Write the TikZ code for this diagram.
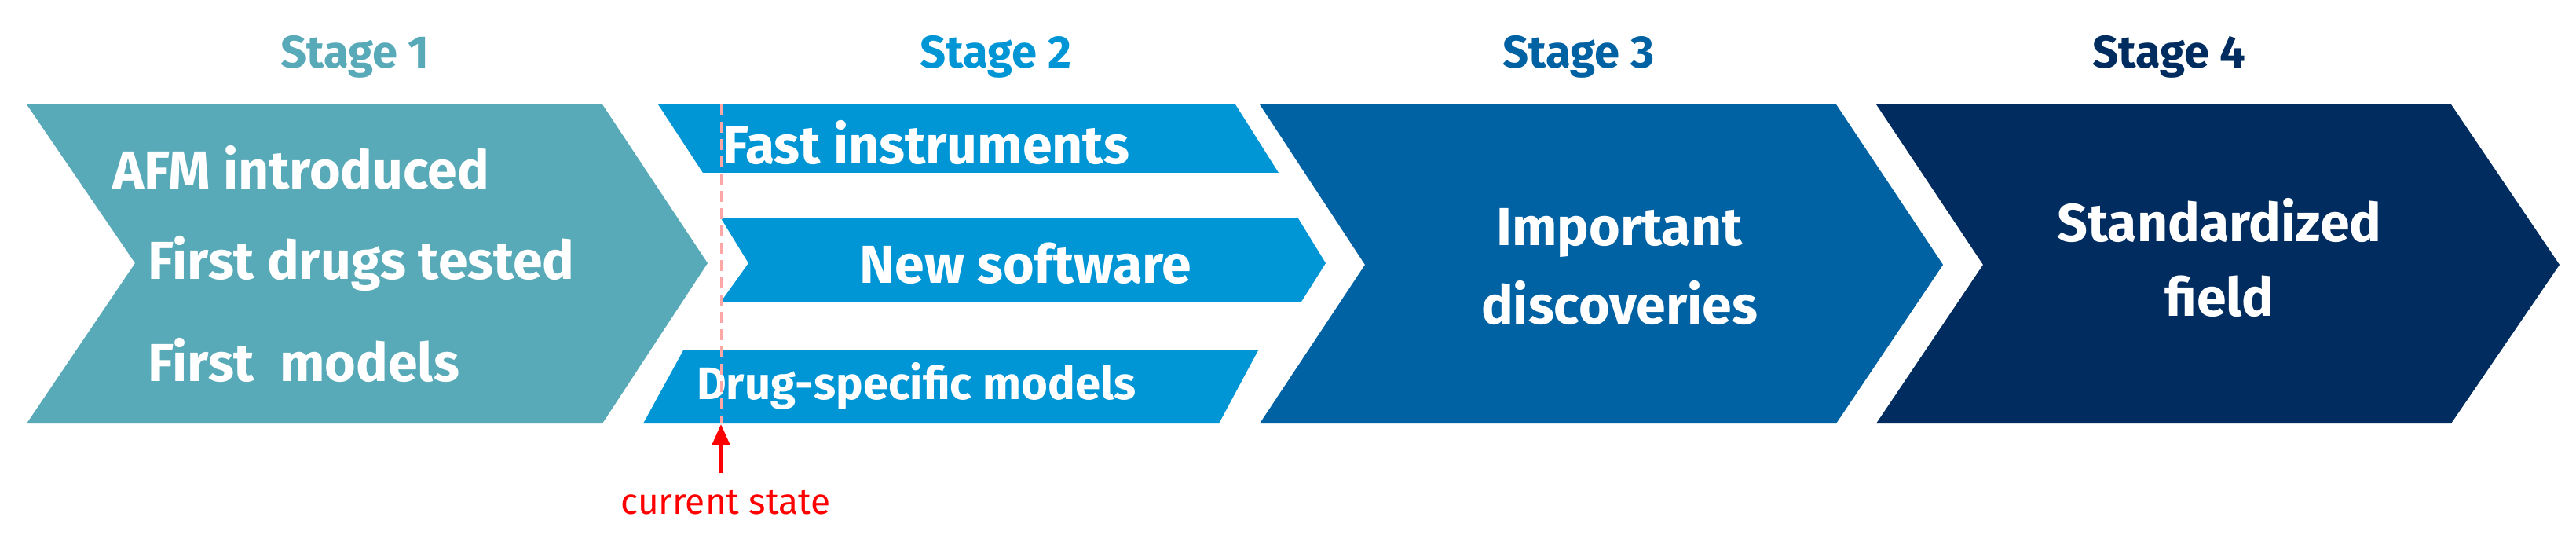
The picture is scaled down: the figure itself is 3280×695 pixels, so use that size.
\documentclass[tikz,border=0pt]{standalone}
\usepackage{fontspec}
\setmainfont{Fira Sans}
\usetikzlibrary{arrows.meta}
\definecolor{cA}{HTML}{58AAB8}
\definecolor{cB}{HTML}{0096D6}
\definecolor{cC}{HTML}{0062A3}
\definecolor{cD}{HTML}{002C5F}
\definecolor{cR}{HTML}{FF0000}
\begin{document}
\begin{tikzpicture}[x=1pt,y=-1pt,
  txt/.style={text=white,font=\fontsize{68}{80}\selectfont\bfseries,inner sep=0pt},
  ttl/.style={font=\fontsize{58}{66}\selectfont\bfseries,inner sep=0pt}]
\useasboundingbox (0,0) rectangle (3280,695);
% stage 1
\fill[cA] (34,133) -- (767,133) -- (901,335) -- (767,539) -- (34,539) -- (172,335) -- cycle;
% stage 2 pieces
\fill[cB] (838,133) -- (1573,133) -- (1628,220) -- (895,220) -- cycle;
\fill[cB] (918,278) -- (1653,278) -- (1688,335) -- (1657,384) -- (918,384) -- (953,335) -- cycle;
\fill[cB] (870,446) -- (1602,446) -- (1552,539) -- (819,539) -- cycle;
% stage 3, 4
\fill[cC] (1604,133) -- (2338,133) -- (2474,337) -- (2338,539) -- (1604,539) -- (1738,337) -- cycle;
\fill[cD] (2389,133) -- (3121,133) -- (3259,337) -- (3121,539) -- (2389,539) -- (2525,337) -- cycle;
% titles
\node[ttl,text=cA] (t1) at (452,72) {Stage 1};
\node[ttl,text=cB] (t2) at (1268,72) {Stage 2};
\node[ttl,text=cC] (t3) at (2010,72) {Stage 3};
\node[ttl,text=cD] (t4) at (2762,72) {Stage 4};
% texts
\node[txt,anchor=west] (a1) at (143,214) {AFM introduced};
\node[txt,anchor=west] (a2) at (188,335) {First drugs tested};
\node[txt,anchor=west] (a3) at (188,459) {First\ \ models};
\node[txt,anchor=west] (b1) at (920,182) {Fast instruments};
\node[txt] (b2) at (1306,335) {New software};
\node[txt,anchor=west,font=\fontsize{58}{66}\selectfont\bfseries] (b3) at (887,491) {Drug-specific models};
\node[txt,align=center,font=\fontsize{68}{100}\selectfont\bfseries] (c1) at (2062,340) {Important\\discoveries};
\node[txt,align=center,font=\fontsize{68}{95}\selectfont\bfseries] (d1) at (2826,328) {Standardized\\field};
% current state
\draw[cR!35,line width=3pt,dash pattern=on 14pt off 8pt] (918,133) -- (918,539);
\coordinate (cs) at (918,540);
\node[text=cR,font=\fontsize{46}{52}\selectfont,inner sep=0pt] (cur) at (924,640) {current state};
\draw[cR,line width=4pt,-{Triangle[length=26pt,width=22pt]}] (918,602) -- (cs);
\end{tikzpicture}
\end{document}
